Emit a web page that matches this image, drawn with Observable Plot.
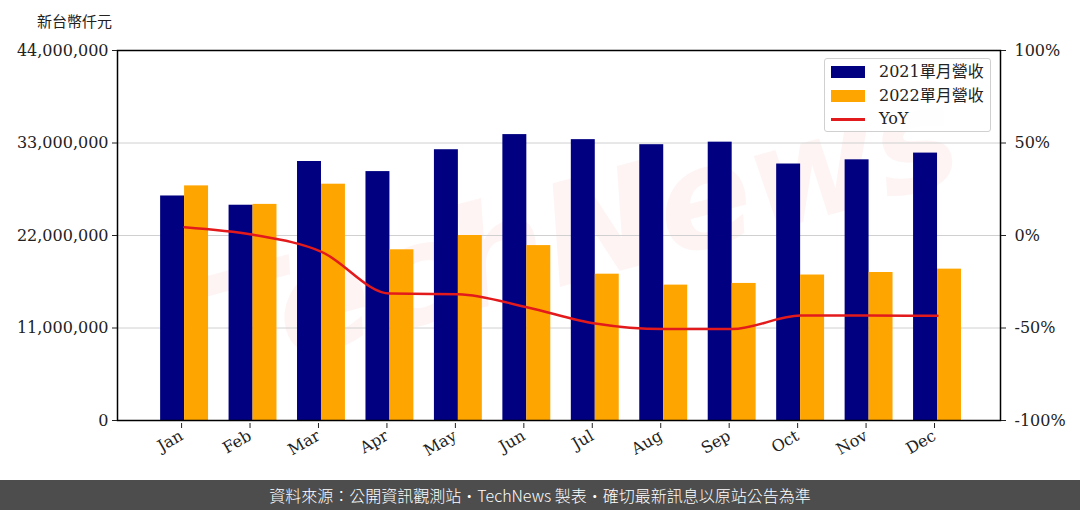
<!DOCTYPE html>
<html><head><meta charset="utf-8">
<script src="https://cdn.jsdelivr.net/npm/d3@7"></script>
<script src="https://cdn.jsdelivr.net/npm/@observablehq/plot@0.6"></script>
<style>
body{margin:0;width:1080px;height:510px;overflow:hidden;background:#fff;position:relative;font-family:"DejaVu Serif",serif}
#title{height:40px;position:relative}
#title span{position:absolute;left:37px;top:10px;font:15px "Noto Sans CJK TC",sans-serif;color:#222}
#chart{height:440px}
#footer{position:absolute;left:0;top:480px;width:1080px;height:30px;background:#4d4d4d;color:#fff;font-family:"Noto Sans CJK TC",sans-serif;font-size:16px;font-weight:300;text-align:center;line-height:30px}
#legend{position:absolute;left:824px;top:58px;width:167px;height:74px;border:1px solid #d0d0d0;border-radius:3px;background:rgba(255,255,255,0.85);box-sizing:border-box}
.row{position:absolute;left:0;height:20px;width:100%}
.sw{position:absolute;left:6px;width:34px}
.lt{position:absolute;left:54px;font:16px "DejaVu Serif","Noto Sans CJK TC",serif;color:#222;line-height:20px;top:0}
</style></head><body>
<div id="title"><span>新台幣仟元</span></div>
<div id="chart"></div>
<div id="legend"></div>
<div id="footer">資料來源：公開資訊觀測站・TechNews 製表・確切最新訊息以原站公告為準</div>
<script>
const months = ["Jan","Feb","Mar","Apr","May","Jun","Jul","Aug","Sep","Oct","Nov","Dec"];
const rev2021 = [26700000,25600000,30800000,29600000,32200000,34000000,33400000,32800000,33100000,30500000,31000000,31800000];
const rev2022 = [27900000,25700000,28100000,20300000,22000000,20800000,17400000,16100000,16300000,17300000,17600000,18000000];
const yoy = [4.5,0.4,-8.8,-31.4,-31.7,-38.8,-47.6,-50.6,-50.6,-43.3,-43.3,-43.4];
const leftTicks = [0,11000000,22000000,33000000,44000000];
const rightTicks = [-100,-50,0,50,100];
const seriesNames = ["2021單月營收","2022單月營收","YoY"];
const colors = ["#000080","#FFA500","#e31a1c"];

const yMax = 44000000;
const pctToY = p => (p + 100) / 200 * yMax;
const yToPct = v => Math.round(v / yMax * 200 - 100);
const idx = d3.range(months.length);
const bw = 0.35;

const chart = Plot.plot({
  width: 1080, height: 440,
  marginTop: 10, marginBottom: 60, marginLeft: 117, marginRight: 80,
  style: {fontFamily: "DejaVu Serif, serif", fontSize: "16px", color: "#222", background: "transparent"},
  x: {domain: [-0.98, 11.92]},
  y: {domain: [0, yMax]},
  marks: [
    Plot.text(["TechNews"], {frameAnchor: "middle", dx: 20, dy: 0, rotate: -15, fontSize: 140, fontWeight: "bold", fontStyle: "italic", fill: "#e00000", fillOpacity: 0.045, fontFamily: "DejaVu Sans"}),
    Plot.gridY(leftTicks.slice(1, -1), {stroke: "#d0d0d0", strokeOpacity: 1, strokeWidth: 1}),
    Plot.rectY(idx, {x1: i => i - bw, x2: i => i, y1: 0, y2: i => rev2021[i], fill: colors[0]}),
    Plot.rectY(idx, {x1: i => i, x2: i => i + bw, y1: 0, y2: i => rev2022[i], fill: colors[1]}),
    Plot.line(idx, {x: i => i, y: i => pctToY(yoy[i]), stroke: colors[2], strokeWidth: 2.5, curve: "monotone-x"}),
    Plot.frame({stroke: "#000", strokeWidth: 1.5}),
    Plot.axisY(leftTicks, {anchor: "left", tickFormat: d3.format(","), tickSize: 5, tickPadding: 4, label: null, fontSize: 16}),
    Plot.axisY(rightTicks.map(pctToY), {anchor: "right", tickFormat: v => yToPct(v) + "%", tickSize: 5, tickPadding: 9, label: null, fontSize: 16}),
    Plot.axisX(idx, {anchor: "bottom", tickFormat: i => months[i], tickRotate: -30, tickSize: 5, tickPadding: 6, dx: -3, dy: 3, label: null, fontSize: 16})
  ]
});
document.getElementById("chart").appendChild(chart);

const legend = document.getElementById("legend");
const rowTops = [3, 27, 50];
seriesNames.forEach((name, k) => {
  const row = document.createElement("div");
  row.className = "row";
  row.style.top = rowTops[k] + "px";
  const sw = document.createElement("div");
  sw.className = "sw";
  sw.style.background = colors[k];
  if (k < 2) { sw.style.top = "4px"; sw.style.height = "12px"; }
  else { sw.style.top = "9px"; sw.style.height = "3px"; }
  const t = document.createElement("div");
  t.className = "lt";
  t.textContent = name;
  row.appendChild(sw); row.appendChild(t);
  legend.appendChild(row);
});
</script>
</body></html>
